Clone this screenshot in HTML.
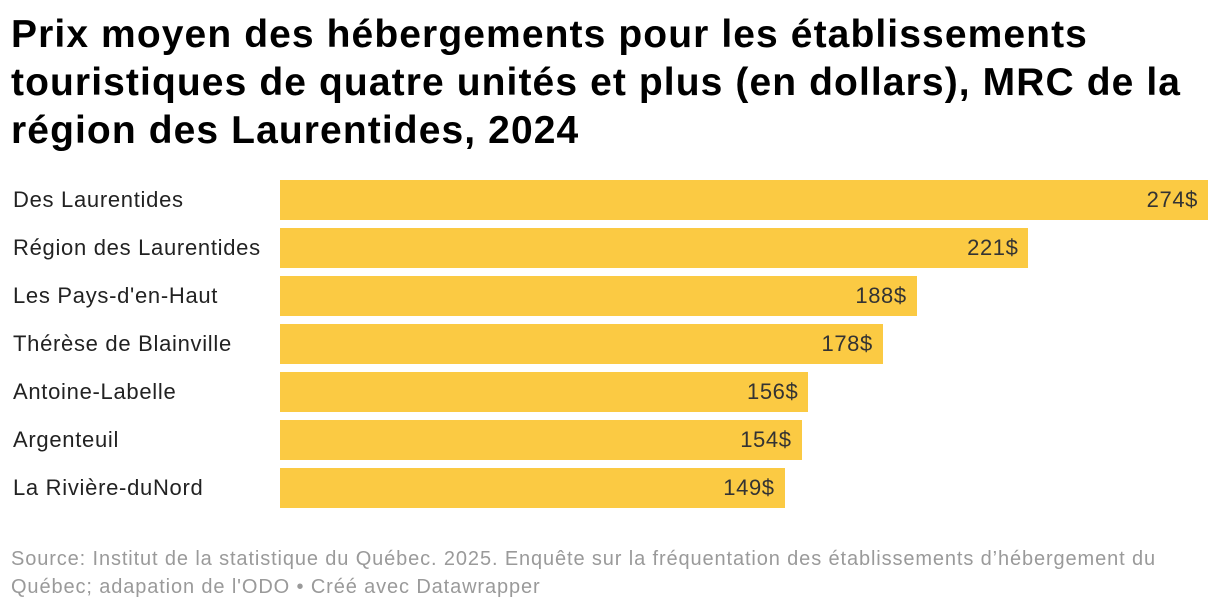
<!DOCTYPE html>
<html><head><meta charset="utf-8"><style>
body{margin:0;width:1220px;height:610px;background:#fff;font-family:"Liberation Sans",sans-serif;overflow:hidden;position:relative}
h1{position:absolute;left:11px;top:11px;margin:0;font-size:39px;line-height:48px;font-weight:bold;color:#000;width:1210px;letter-spacing:1.1px;white-space:nowrap}
.lbl{position:absolute;left:13px;font-size:22px;color:#222;line-height:40px;letter-spacing:0.7px;white-space:nowrap}
.bar{position:absolute;background:#fbca43;height:40px}
.val{position:absolute;font-size:22px;color:#333;line-height:40px;text-align:right;letter-spacing:0.6px}
.foot{position:absolute;left:11px;top:545px;font-size:20px;line-height:28px;color:#9a9a9a;width:1210px;letter-spacing:0.88px;white-space:nowrap}
</style></head><body>
<h1>Prix moyen des hébergements pour les établissements<br>touristiques de quatre unités et plus (en dollars), MRC de la<br>région des Laurentides, 2024</h1>
<div id="chart"></div>
<div class="foot">Source: Institut de la statistique du Québec. 2025. Enquête sur la fréquentation des établissements d’hébergement du<br>Québec; adapation de l'ODO • Créé avec Datawrapper</div>
<script>
const categories=["Des Laurentides","Région des Laurentides","Les Pays-d'en-Haut","Thérèse de Blainville","Antoine-Labelle","Argenteuil","La Rivière-duNord"];
const values=[274,221,188,178,156,154,149];
const x0=280,maxW=928,maxV=274,top0=180,pitch=48;
const xs=v=>v/maxV*maxW;
const c=document.getElementById('chart');
categories.forEach((cat,i)=>{
  const y=top0+i*pitch;
  const l=document.createElement('div');l.className='lbl';l.style.top=y+'px';l.textContent=cat;
  
  
  c.appendChild(l);
  const b=document.createElement('div');b.className='bar';b.style.left=x0+'px';b.style.top=y+'px';b.style.width=xs(values[i])+'px';
  
  
  c.appendChild(b);
  const v=document.createElement('div');v.className='val';v.style.left=(x0+xs(values[i])-210)+'px';v.style.width='200px';v.style.top=y+'px';v.textContent=values[i]+'$';
  
  
  c.appendChild(v);
});
</script>
</body></html>
